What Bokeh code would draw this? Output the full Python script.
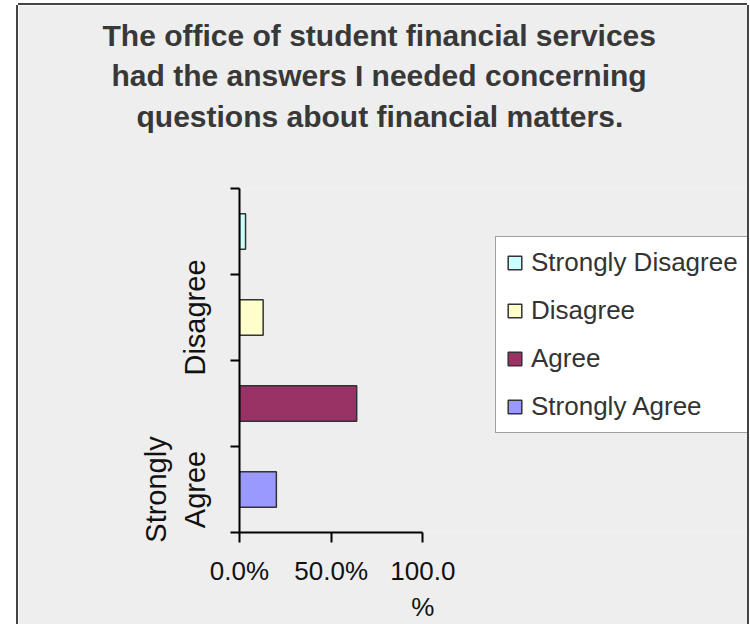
from bokeh.plotting import figure
from bokeh.models import ColumnDataSource, Range1d, FixedTicker, Legend, LegendItem, Title
from bokeh.embed import file_html
from bokeh.resources import INLINE

# ---- data ----
title_lines = [
    "The office of student financial services",
    "had the answers I needed concerning",
    "questions about financial matters.",
]
categories = ["Strongly Agree", "Agree", "Disagree", "Strongly Disagree"]
percent = [20.1, 63.9, 12.9, 3.3]
colors = ["#9999ff", "#993366", "#ffffcc", "#ccffff"]
y_tick_labels = ["Strongly\nAgree", "", "Disagree", ""]
x_ticks = [0, 50, 100]
x_tick_labels = ["0.0%", "50.0%", "100.0\n%"]
legend_order = ["Strongly Disagree", "Disagree", "Agree", "Strongly Agree"]

ypos = [i + 0.5 for i in range(len(categories))]
src = ColumnDataSource(dict(cat=categories, pct=percent, y=ypos, color=colors))

BG = "#eeeeee"
FONT = "Liberation Sans"

# layout (pixels): the frame spans to the right edge so the legend fits inside it;
# the x axis itself is bounded to 0..100 %
FIG_W, FIG_H = 729, 619
LEFT, TOP, BOTTOM = 221, 182, 92
AXIS_PX = 183.4                      # pixel length of the 0..100 % axis
frame_w = FIG_W - LEFT
x_end = 100 * frame_w / AXIS_PX

p = figure(width=FIG_W, height=FIG_H, output_backend="svg", toolbar_location=None,
           x_range=Range1d(0, x_end), y_range=Range1d(0, len(categories)),
           min_border_left=LEFT, min_border_top=TOP, min_border_right=0,
           min_border_bottom=BOTTOM,
           background_fill_color=BG, border_fill_color=BG, outline_line_color=None)
p.margin = (5, 0, 0, 18)
p.styles = {"box-shadow": "-2px 0 0 0 #444444, 2px 0 0 0 #444444, 0 -2px 0 0 #444444"}
p.grid.visible = False

r = p.hbar(y="y", left=0, right="pct", height=0.41, fill_color="color",
           line_color="#333333", line_width=1.5, source=src)

# x axis
xa = p.xaxis[0]
xa.bounds = (x_ticks[0], x_ticks[-1])
xa.ticker = FixedTicker(ticks=x_ticks, minor_ticks=[])
xa.major_label_overrides = {t: l for t, l in zip(x_ticks, x_tick_labels)}
xa.axis_line_color = "black"
xa.axis_line_width = 2
xa.major_tick_out = 10
xa.major_tick_in = 0
xa.major_tick_line_width = 2
xa.minor_tick_line_color = None
xa.major_label_text_font = FONT
xa.major_label_text_font_size = "26px"
xa.major_label_text_color = "#111111"
xa.major_label_standoff = 13

# y axis
ya = p.yaxis[0]
ya.ticker = FixedTicker(ticks=ypos, minor_ticks=list(range(len(categories) + 1)))
ya.major_label_overrides = {t: l for t, l in zip(ypos, y_tick_labels)}
ya.axis_line_color = "black"
ya.axis_line_width = 2
ya.major_tick_line_color = None
ya.major_tick_out = 0
ya.major_tick_in = 0
ya.minor_tick_out = 9
ya.minor_tick_in = 0
ya.minor_tick_line_color = "black"
ya.minor_tick_line_width = 2
ya.major_label_orientation = "vertical"
ya.major_label_text_font = FONT
ya.major_label_text_font_size = "29px"
ya.major_label_text_color = "#111111"
ya.major_label_standoff = 20

# legend
items = [LegendItem(label=c, renderers=[r], index=categories.index(c)) for c in legend_order]
legend = Legend(items=items, location=(256, 99), orientation="vertical",
                label_text_font=FONT, label_text_font_size="26px", label_text_color="#333333",
                glyph_width=17, glyph_height=17, label_standoff=8, padding=10, spacing=17,
                margin=0, border_line_color="#404040", border_line_width=1.5,
                background_fill_color="white", background_fill_alpha=1.0)
p.add_layout(legend)

# title: three lines, left edges offset from the frame's left edge
title_offsets = [-137, -128, -103]
title_pads = [(11, 0), (5, 0), (6, 56)]
for line, off, (pt, pb) in reversed(list(zip(title_lines, title_offsets, title_pads))):
    p.add_layout(Title(text=line, align="left", offset=off, standoff=0,
                       padding=dict(left=0, right=0, top=pt, bottom=pb),
                       text_font=FONT, text_font_size="30px", text_font_style="bold",
                       text_color="#383838"), "above")

open("out.html", "w").write(file_html(p, INLINE))
